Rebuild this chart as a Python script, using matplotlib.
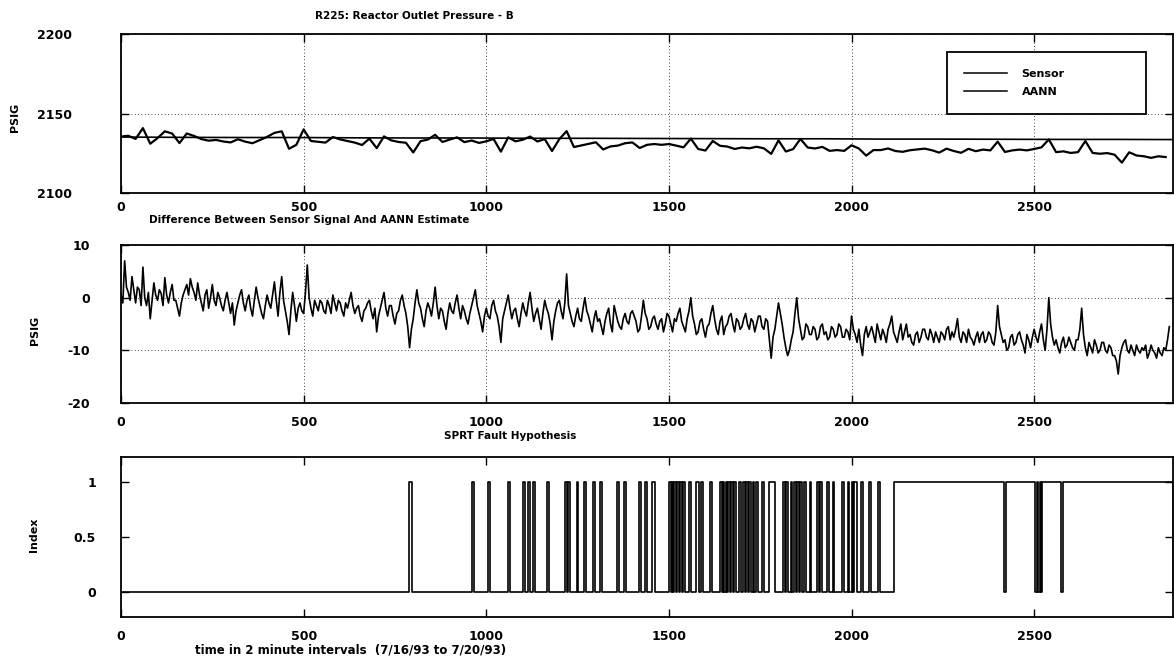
import numpy as np
import matplotlib
matplotlib.use("Agg")
import matplotlib.pyplot as plt

# ---------------- data ----------------
n_samples = 2880
xtick_vals = [0, 500, 1000, 1500, 2000, 2500]

# Sensor signal, every 20 samples (PSIG)
sensor = [
    2135.5, 2136.0, 2134.0, 2140.8, 2131.0, 2134.5, 2138.8, 2137.4, 2131.4, 2137.4,
    2135.9, 2133.9, 2132.9, 2133.4, 2132.4, 2131.8, 2133.8, 2132.3, 2131.3, 2133.3,
    2135.3, 2137.8, 2138.8, 2127.8, 2130.3, 2140.0, 2132.7, 2132.2, 2131.7, 2135.2,
    2133.7, 2132.7, 2131.7, 2130.2, 2134.2, 2128.2, 2135.6, 2133.1, 2132.1, 2131.6,
    2125.5, 2132.6, 2133.6, 2136.6, 2132.1, 2133.6, 2135.0, 2132.0, 2133.0, 2131.5,
    2132.5, 2134.0, 2126.0, 2135.0, 2132.5, 2133.5, 2135.5, 2132.4, 2133.9, 2126.4,
    2133.9, 2138.9, 2128.9, 2129.9, 2130.9, 2131.9, 2127.4, 2129.3, 2129.8, 2131.3,
    2131.8, 2128.3, 2130.3, 2130.8, 2130.3, 2130.8, 2129.8, 2128.7, 2134.2, 2127.7,
    2126.7, 2132.7, 2129.7, 2129.2, 2127.7, 2128.6, 2128.1, 2129.1, 2128.1, 2124.6,
    2133.1, 2126.1, 2127.6, 2134.0, 2128.6, 2128.0, 2129.0, 2126.5, 2127.0, 2126.5,
    2130.0, 2128.0, 2123.5, 2127.0, 2127.0, 2128.0, 2126.4, 2125.9, 2126.9, 2127.4,
    2127.9, 2126.9, 2125.4, 2127.9, 2126.4, 2125.3, 2127.8, 2126.3, 2127.3, 2126.8,
    2132.3, 2125.8, 2126.8, 2127.3, 2126.8, 2127.7, 2128.7, 2133.7, 2125.7, 2126.2,
    2125.2, 2125.7, 2132.7, 2125.2, 2124.7, 2125.1, 2124.1, 2119.1, 2125.6, 2123.6,
    2123.1, 2122.1, 2123.1, 2122.6,
]

# AANN estimate, every 160 samples (PSIG)
aann = [2135.2, 2135.0, 2134.9, 2134.9, 2134.7, 2134.6, 2134.6, 2134.4, 2134.4, 2134.3,
        2134.2, 2134.1, 2134.1, 2133.9, 2133.9, 2133.8, 2133.7, 2133.7, 2133.6]

# Difference sensor - AANN, every 5 samples (PSIG)
difference = [
    0.5, -1.0, 7.0, 2.0, 1.0, -0.5, 4.0, 1.5, -1.0, 2.0, 1.5, -1.5, 5.8, 0.0, -1.5, 1.0, -4.0, -0.5, 2.8, 0.5,
    -0.5, 1.5, 0.8, -1.5, 3.8, 0.5, -1.0, 1.0, 2.5, -0.5, -0.5, -2.0, -3.5, -1.0, 0.5, 1.5, 2.5, 0.5, 3.6, 2.0,
    1.0, -0.5, 2.8, 0.5, -1.0, -2.5, 0.5, 1.5, -2.0, 0.0, 2.5, -0.5, -1.5, 1.0, 0.0, -1.5, -2.5, -0.5, 1.0, -1.0,
    -3.0, -1.0, -5.2, -2.5, -1.0, 0.5, 1.5, -1.0, -2.5, -0.5, 0.5, -2.0, -3.5, -0.5, 2.0, 0.0, -1.5, -3.0, -4.0, -1.5,
    0.5, -1.0, -2.0, 0.5, 3.0, -0.5, -3.5, 1.0, 4.0, -0.5, -2.5, -4.5, -7.0, -2.5, 1.0, -1.5, -4.5, -2.0, -1.0, -2.5,
    -3.0, 1.0, 6.2, 0.0, -2.0, -3.5, -0.5, -1.5, -2.5, -0.5, -1.0, -2.5, -3.0, -0.5, -1.5, -3.0, 0.5, -1.0, -2.5, -0.5,
    -1.0, -2.5, -3.5, -1.0, -2.0, -0.5, 1.0, -1.5, -3.0, -2.0, -1.5, -3.5, -4.5, -2.5, -2.0, -1.0, -0.5, -2.5, -4.0, -2.0,
    -6.5, -3.5, -2.0, -0.5, 1.0, -2.0, -3.5, -1.5, -1.5, -3.5, -5.0, -3.0, -2.5, -0.5, 0.5, -1.5, -3.0, -5.5, -9.5, -6.0,
    -4.0, -1.0, 1.5, -1.0, -2.0, -4.0, -5.5, -2.5, -1.0, -2.0, -3.5, -1.0, 2.0, -1.5, -4.0, -2.0, -2.5, -4.5, -6.0, -3.0,
    -1.0, -2.5, -3.0, -1.0, 0.5, -2.0, -4.0, -1.5, -2.5, -4.0, -5.0, -3.0, -1.5, 0.0, 1.5, -1.5, -3.0, -4.5, -6.5, -3.5,
    -2.0, -3.5, -4.0, -1.5, -0.5, -2.5, -3.5, -5.5, -8.5, -4.0, -2.5, -1.0, 0.5, -2.0, -4.0, -2.5, -2.0, -4.0, -5.5, -3.0,
    -1.0, -2.5, -3.5, -1.0, 1.0, -2.0, -4.5, -3.0, -2.0, -4.0, -6.0, -3.0, -0.5, -2.0, -3.0, -5.0, -8.0, -4.5, -2.5, -1.0,
    -0.5, -2.5, -4.0, -1.0, 4.5, -1.5, -3.0, -4.5, -5.5, -3.5, -2.0, -4.0, -4.5, -2.0, 0.0, -2.5, -3.5, -5.0, -6.5, -4.0,
    -2.5, -4.5, -4.0, -5.5, -7.0, -4.5, -3.0, -2.0, -5.0, -6.5, -1.5, -3.0, -4.5, -5.5, -6.0, -4.0, -3.0, -4.5, -5.0, -3.0,
    -2.5, -3.5, -4.5, -6.5, -6.0, -3.5, -0.5, -3.0, -4.0, -6.0, -5.5, -4.0, -3.5, -5.0, -6.0, -4.5, -4.0, -6.5, -5.0, -3.0,
    -3.5, -5.0, -6.5, -4.0, -4.5, -3.0, -2.0, -4.5, -5.5, -6.5, -4.0, -2.5, 0.0, -3.5, -5.0, -7.0, -6.5, -4.5, -4.0, -6.0,
    -7.5, -5.5, -5.0, -3.0, -1.5, -4.0, -6.0, -7.0, -4.5, -3.5, -7.0, -5.5, -5.0, -3.5, -3.0, -5.0, -6.5, -4.0, -4.5, -6.0,
    -5.5, -4.0, -3.0, -5.0, -6.0, -4.0, -4.5, -6.5, -5.0, -3.5, -3.5, -5.5, -6.0, -4.0, -4.5, -8.0, -11.5, -7.5, -6.0, -3.5,
    -1.0, -3.0, -5.0, -7.5, -9.5, -11.0, -10.0, -8.0, -6.5, -3.0, 0.0, -4.0, -6.0, -8.0, -7.5, -5.0, -5.5, -7.0, -7.0, -5.5,
    -6.0, -8.0, -7.5, -5.5, -5.0, -7.0, -6.5, -8.0, -7.5, -5.5, -6.0, -7.5, -7.0, -5.0, -5.5, -7.5, -7.5, -6.0, -6.5, -8.0,
    -3.5, -6.0, -7.0, -8.5, -6.0, -9.0, -11.0, -7.0, -5.5, -7.5, -6.5, -5.5, -7.0, -8.5, -5.0, -6.5, -8.0, -6.0, -7.0, -8.5,
    -6.0, -5.0, -3.5, -6.5, -7.5, -8.5, -6.5, -5.0, -8.0, -6.5, -5.0, -7.5, -7.0, -8.5, -9.0, -7.0, -6.5, -8.5, -7.5, -6.0,
    -6.0, -7.5, -8.0, -6.0, -7.0, -8.5, -6.5, -7.5, -8.5, -6.5, -7.0, -8.0, -6.0, -5.5, -8.0, -6.5, -7.5, -6.0, -4.0, -7.5,
    -8.5, -6.5, -7.0, -8.5, -6.0, -7.5, -8.0, -9.0, -7.5, -6.5, -8.5, -7.0, -6.5, -8.5, -8.0, -6.5, -7.0, -8.5, -9.0, -6.5,
    -1.5, -5.5, -7.0, -8.5, -8.0, -10.0, -9.5, -7.5, -7.0, -9.0, -8.5, -7.0, -6.5, -8.0, -9.0, -10.5, -7.0, -8.0, -9.5, -7.5,
    -6.0, -7.5, -8.5, -6.5, -5.0, -8.0, -10.0, -6.0, 0.0, -5.0, -7.5, -9.0, -8.0, -9.5, -10.5, -8.5, -7.5, -9.5, -9.0, -7.5,
    -8.5, -9.5, -10.0, -8.0, -8.0, -6.0, -2.0, -7.0, -9.5, -11.0, -8.5, -9.5, -10.5, -8.0, -9.0, -10.5, -10.0, -8.5, -8.5, -10.0,
    -10.5, -9.0, -9.5, -11.0, -11.0, -12.0, -14.5, -11.0, -9.5, -8.5, -8.0, -10.0, -10.5, -9.0, -10.0, -11.0, -9.0, -10.0, -10.5, -9.5,
    -10.0, -9.0, -11.5, -10.5, -9.0, -10.0, -10.5, -11.5, -9.5, -10.5, -11.0, -9.5, -10.0, -8.0, -5.5,
]

# SPRT fault hypothesis: sample intervals where the index is 1
fault_start = [788, 960, 1005, 1060, 1100, 1115, 1127, 1165, 1215, 1224, 1247, 1268,
               1293, 1312, 1357, 1378, 1418, 1435, 1455, 1500, 1508, 1515, 1523, 1530,
               1539, 1555, 1575, 1587, 1612, 1640, 1648, 1655, 1663, 1671, 1679, 1693,
               1703, 1712, 1720, 1729, 1738, 1754, 1774, 1812, 1821, 1833, 1842, 1851,
               1858, 1869, 1885, 1906, 1914, 1932, 1948, 1974, 1989, 2000, 2008, 2026,
               2047, 2073, 2115, 2422, 2508, 2515, 2522, 2579]
fault_end = [796, 967, 1010, 1065, 1105, 1120, 1134, 1172, 1222, 1230, 1252, 1273,
             1298, 1318, 1362, 1383, 1424, 1441, 1462, 1505, 1512, 1520, 1528, 1536,
             1544, 1560, 1581, 1593, 1618, 1645, 1652, 1660, 1668, 1676, 1684, 1698,
             1708, 1716, 1725, 1734, 1744, 1760, 1790, 1818, 1826, 1838, 1847, 1856,
             1863, 1874, 1890, 1911, 1920, 1937, 1953, 1979, 1994, 2005, 2014, 2031,
             2052, 2078, 2417, 2503, 2511, 2518, 2574, 2880]

# ---------------- figure ----------------
W, H = 1174, 666
plt.rcParams['font.family'] = ['DejaVu Sans']
plt.rcParams['font.weight'] = 'bold'
plt.rcParams['axes.unicode_minus'] = False
fig = plt.figure(figsize=(W / 100, H / 100), dpi=100)

def axes_px(top, bottom, left=121, right=1173):
    return [left / W, 1 - bottom / H, (right - left) / W, (bottom - top) / H]

ax1 = fig.add_axes(axes_px(34, 193))
ax2 = fig.add_axes(axes_px(245, 403))
ax3 = fig.add_axes(axes_px(457, 617))

sensor_x = np.arange(len(sensor)) * 20
aann_x = np.arange(len(aann)) * 160
diff_x = np.arange(len(difference)) * 5

l_sensor, = ax1.plot(sensor_x, sensor, color='k', lw=1.6)
l_aann, = ax1.plot(aann_x, aann, color='k', lw=1.2)
ax2.plot(diff_x, difference, color='k', lw=1.2)

sx, sy = [0], [0]
for s, e in zip(fault_start, fault_end):
    sx += [s, s, e, e]
    sy += [0, 1, 1, 0]
ax3.plot(sx, sy, color='k', lw=1.2)

ax1.set_ylim(2100, 2200)
ax1.set_yticks([2100, 2150, 2200])
ax2.set_ylim(-20, 10)
ax2.set_yticks([-20, -10, 0, 10])
ax3.set_ylim(-0.23, 1.23)
ax3.set_yticks([0, 0.5, 1])
ax3.set_yticklabels(['0', '0.5', '1'])

for ax, ypad, xpad in ((ax1, 35, 6), (ax2, 22, 9), (ax3, 18, 9)):
    ax.set_xlim(0, n_samples)
    ax.set_xticks(xtick_vals)
    ax.tick_params(direction='in', length=6, width=1, top=True, right=True,
                   labelsize=9, colors='k')
    ax.tick_params(axis='y', pad=ypad)
    ax.tick_params(axis='x', pad=xpad)
    for sp in ax.spines.values():
        sp.set_linewidth(1.3)
    for lab in ax.get_xticklabels() + ax.get_yticklabels():
        lab.set_fontweight('bold')

for ax in (ax1, ax2):
    ax.grid(True, linestyle=(0, (1, 3)), color='k', lw=0.6)

# titles and labels (placed as in the reference)
fig.text(414 / W, 1 - 16 / H, 'R225: Reactor Outlet Pressure - B', ha='center',
         va='center', fontsize=7.5, fontweight='bold')
fig.text(309 / W, 1 - 220 / H, 'Difference Between Sensor Signal And AANN Estimate',
         ha='center', va='center', fontsize=7.5, fontweight='bold')
fig.text(510 / W, 1 - 436 / H, 'SPRT Fault Hypothesis', ha='center', va='center',
         fontsize=7.5, fontweight='bold')
fig.text(351 / W, 1 - 650 / H, 'time in 2 minute intervals  (7/16/93 to 7/20/93)',
         ha='center', va='center', fontsize=8.5, fontweight='bold')
fig.text(15 / W, 1 - 117 / H, 'PSIG', rotation=90, ha='center', va='center',
         fontsize=8, fontweight='bold')
fig.text(35 / W, 1 - 330 / H, 'PSIG', rotation=90, ha='center', va='center',
         fontsize=8, fontweight='bold')
fig.text(34 / W, 1 - 535 / H, 'Index', rotation=90, ha='center', va='center',
         fontsize=8, fontweight='bold')

leg = fig.legend([l_sensor, l_aann], ['Sensor', 'AANN'], loc='upper left',
                 bbox_to_anchor=(947 / W, 1 - 114 / H, 199 / W, 62 / H), mode='expand',
                 fancybox=False, edgecolor='k', framealpha=1,
                 prop={'weight': 'bold', 'size': 8}, handlelength=3.9,
                 handletextpad=1.3, borderpad=1.5, labelspacing=0.75, borderaxespad=0)
leg.get_frame().set_linewidth(1.3)
for h in leg.legend_handles:
    h.set_linewidth(1.1)

fig.savefig('out.png', dpi=100)
